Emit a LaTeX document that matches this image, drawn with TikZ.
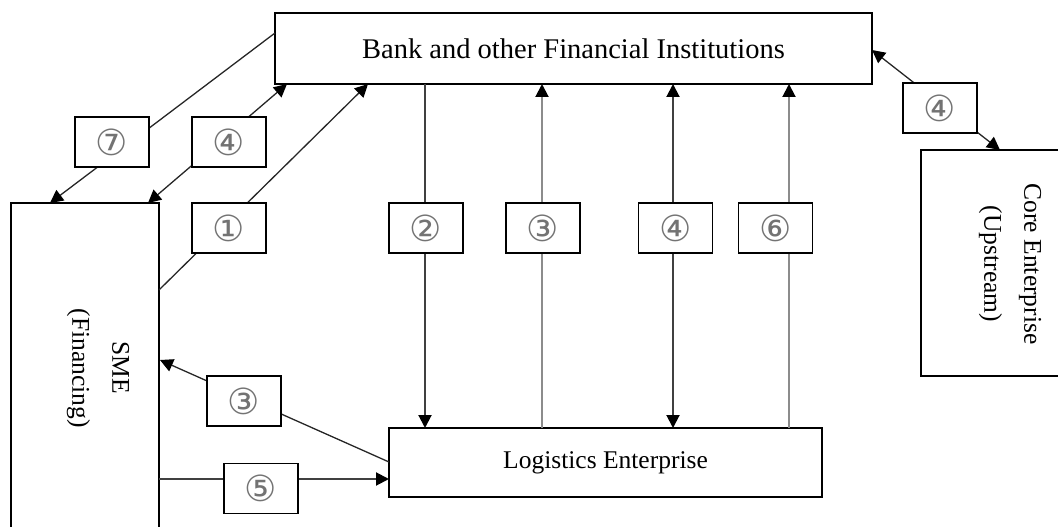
\documentclass[tikz,border=0pt]{standalone}
\usepackage{fontspec}
\setmainfont{Liberation Serif}
\newfontfamily\circfont{DejaVu Sans}
\usetikzlibrary{arrows.meta}
\begin{document}
\begin{tikzpicture}[x=1pt,y=-1pt,
  box/.style={draw, line width=1.8pt, fill=white, inner sep=0pt},
  numbox/.style={draw, line width=1.8pt, fill=white, minimum width=74pt, minimum height=50pt,
    inner sep=0pt, font=\circfont\fontsize{36}{36}\selectfont, text=black!55},
  maintext/.style={font=\fontsize{25.5}{40}\selectfont},
  tipend/.style={-{Triangle[length=13pt,width=13pt,color=black]}},
  tipboth/.style={{Triangle[length=13pt,width=13pt,color=black]}-{Triangle[length=13pt,width=13pt,color=black]}},
  darkline/.style={draw=black!85, line width=1.3pt},
  vdark/.style={draw=black!75, line width=2pt},
  vgray/.style={draw=black!45, line width=2pt}
]
\useasboundingbox (0,0) rectangle (1058,527);
\clip (0,0) rectangle (1058,527);

% main boxes
\node[box, minimum width=597pt, minimum height=71pt, font=\fontsize{28.5}{30}\selectfont] (bank) at (573.5,48.5) {Bank and other Financial Institutions};
\node[box, minimum width=433pt, minimum height=69pt, maintext] (logi) at (605.5,462.5) {Logistics Enterprise};
\node[box, minimum width=148pt, minimum height=360pt] (sme) at (85,383) {};
\node[maintext, rotate=-90, align=center] (smetext) at (98,368) {SME\\(Financing)};
\node[box, minimum width=180pt, minimum height=226pt] (core) at (1011,263) {};
\node[maintext, rotate=-90, align=center] (coretext) at (1010,264) {Core Enterprise\\(Upstream)};

% connector end points on the box borders
\coordinate (b7) at (275,33);
\coordinate (s7) at (50,203);
\coordinate (b4) at (287,84);
\coordinate (s4) at (148,203);
\coordinate (s1) at (159,290);
\coordinate (b1) at (368,84);
\coordinate (b2) at (425,84);
\coordinate (l2) at (425,428);
\coordinate (b3) at (542,84);
\coordinate (l3) at (542,428);
\coordinate (bv4) at (673,84);
\coordinate (lv4) at (673,428);
\coordinate (b6) at (789,84);
\coordinate (l6) at (789,428);
\coordinate (br4) at (872,50);
\coordinate (c4) at (1000,150);
\coordinate (l3b) at (389,462);
\coordinate (s3b) at (160,360);
\coordinate (s5) at (159,479);
\coordinate (l5) at (389,479);

% connectors
\draw[darkline, tipend] (b7) -- (s7);
\draw[darkline, tipboth] (b4) -- (s4);
\draw[darkline, tipend] (s1) -- (b1);
\draw[vdark, tipend] (b2) -- (l2);
\draw[vgray, tipend] (l3) -- (b3);
\draw[vdark, tipboth] (bv4) -- (lv4);
\draw[vgray, tipend] (l6) -- (b6);
\draw[darkline, tipboth] (br4) -- (c4);
\draw[darkline, tipend] (l3b) -- (s3b);
\draw[vdark, tipend] (s5) -- (l5);

% label boxes
\node[numbox] (n7) at (112,142) {⑦};
\node[numbox] (n4a) at (229,142) {④};
\node[numbox] (n1) at (229,228) {①};
\node[numbox] (n2) at (426,228) {②};
\node[numbox] (n3) at (543,228) {③};
\node[numbox] (n4b) at (675.5,228) {④};
\node[numbox] (n6) at (775.5,228) {⑥};
\node[numbox] (n4c) at (940,108) {④};
\node[numbox] (n3b) at (244,401) {③};
\node[numbox] (n5) at (261,488.5) {⑤};
\end{tikzpicture}
\end{document}
